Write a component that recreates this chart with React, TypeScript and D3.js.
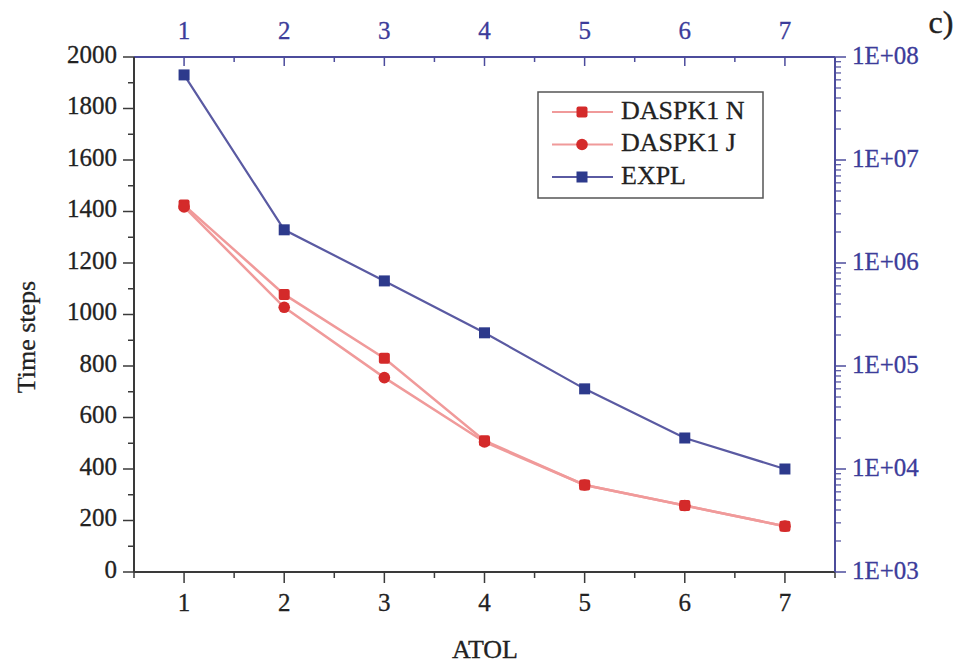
import React from "react";
import * as d3 from "d3";

const atol = [1, 2, 3, 4, 5, 6, 7];
const daspkN = [1425, 1078, 830, 510, 338, 258, 178];
const daspkJ = [1418, 1028, 755, 505, 338, 258, 178];
const expl = [6.7e7, 2.1e6, 6.7e5, 2.1e5, 6.0e4, 2.0e4, 1.0e4];
const leftTicks = [0, 200, 400, 600, 800, 1000, 1200, 1400, 1600, 1800, 2000];
const rightTicks = [1e3, 1e4, 1e5, 1e6, 1e7, 1e8];
const rightLabels = ["1E+03", "1E+04", "1E+05", "1E+06", "1E+07", "1E+08"];
const legendNames = ["DASPK1 N", "DASPK1 J", "EXPL"];

const W = 960, H = 667;
const L = 134, R = 835, T = 57, B = 572;
const FONT = "'Liberation Serif', 'Times New Roman', serif";
const AX = "#3a3a3a";
const BLUE_AX = "#4c4c9c";
const BLUE_TXT = "#3c3c9a";
const TXT = "#222";

export default function App() {
  const x = d3.scaleLinear().domain([0.5, 7.5]).range([L, R]);
  const yL = d3.scaleLinear().domain([0, 2000]).range([B, T]);
  const yR = d3.scaleLog().domain([1e3, 1e8]).range([B, T]);

  const minorX = d3.range(0.5, 7.51, 0.5);
  const minorL = d3.range(0, 2001, 100);
  const minorR: number[] = [];
  for (let e = 3; e < 8; e++) for (let k = 2; k <= 9; k++) minorR.push(k * Math.pow(10, e));

  const lineL = d3.line<number>().x((_, i) => x(atol[i])).y((d) => yL(d));
  const lineR = d3.line<number>().x((_, i) => x(atol[i])).y((d) => yR(d));

  const redLine = "#f09a9a";
  const redMark = "#d42a2a";
  const blueLine = "#5a5aa2";
  const blueMark = "#2d3a8c";
  const tickFs = 25;

  return (
    <svg width={W} height={H} style={{ position: "absolute", left: 0, top: 0, background: "#fff" }} fontFamily={FONT}>
      <rect x={0} y={0} width={W} height={H} fill="#fff" />
      {/* data lines */}
      <path d={lineL(daspkN) || ""} fill="none" stroke={redLine} strokeWidth={2.5} />
      <path d={lineL(daspkJ) || ""} fill="none" stroke={redLine} strokeWidth={2.5} />
      <path d={lineR(expl) || ""} fill="none" stroke={blueLine} strokeWidth={2.2} />
      {daspkN.map((d, i) => (
        <rect key={"n" + i} x={x(atol[i]) - 5.5} y={yL(d) - 5.5} width={11} height={11} fill={redMark} rx={2} />
      ))}
      {daspkJ.map((d, i) => (
        <circle key={"j" + i} cx={x(atol[i])} cy={yL(d)} r={5.8} fill={redMark} />
      ))}
      {expl.map((d, i) => (
        <rect key={"e" + i} x={x(atol[i]) - 5.5} y={yR(d) - 5.5} width={11} height={11} fill={blueMark} />
      ))}

      {/* bottom axis */}
      <line x1={L} x2={R} y1={B} y2={B} stroke={AX} strokeWidth={2} />
      {minorX.map((v) => {
        const major = Number.isInteger(v);
        return <line key={"bx" + v} x1={x(v)} x2={x(v)} y1={B} y2={B + (major ? 11 : 6)} stroke={AX} strokeWidth={1.5} />;
      })}
      {atol.map((v) => (
        <text key={"bl" + v} x={x(v)} y={605} fontSize={tickFs} textAnchor="middle" dominantBaseline="middle" fill={TXT} stroke={TXT} strokeWidth={0.3}>{v}</text>
      ))}
      <text x={485} y={652} fontSize={26} textAnchor="middle" dominantBaseline="middle" fill={TXT} stroke={TXT} strokeWidth={0.3}>ATOL</text>

      {/* top axis */}
      <line x1={L} x2={R} y1={T} y2={T} stroke={BLUE_AX} strokeWidth={2} />
      {minorX.map((v) => {
        const major = Number.isInteger(v);
        return <line key={"tx" + v} x1={x(v)} x2={x(v)} y1={T} y2={T + (major ? 9 : 5)} stroke={BLUE_AX} strokeWidth={1.5} />;
      })}
      {atol.map((v) => (
        <text key={"tl" + v} x={x(v)} y={33} fontSize={tickFs} textAnchor="middle" dominantBaseline="middle" fill={BLUE_TXT} stroke={BLUE_TXT} strokeWidth={0.3}>{v}</text>
      ))}

      {/* left axis */}
      <line x1={L} x2={L} y1={T} y2={B} stroke={AX} strokeWidth={2} />
      {minorL.map((v) => {
        const major = v % 200 === 0;
        return <line key={"ly" + v} x1={L - (major ? 11 : 6)} x2={L} y1={yL(v)} y2={yL(v)} stroke={AX} strokeWidth={1.5} />;
      })}
      {leftTicks.map((v) => (
        <text key={"ll" + v} x={L - 17} y={yL(v)} fontSize={tickFs} textAnchor="end" dominantBaseline="middle" fill={TXT} stroke={TXT} strokeWidth={0.3}>{v}</text>
      ))}
      <text x={0} y={0} transform={`translate(29,337) rotate(-90)`} fontSize={26} textAnchor="middle" dominantBaseline="middle" fill={TXT} stroke={TXT} strokeWidth={0.3}>Time steps</text>

      {/* right axis */}
      <line x1={R} x2={R} y1={T} y2={B} stroke={BLUE_AX} strokeWidth={2} />
      {minorR.map((v) => (
        <line key={"rm" + v} x1={R} x2={R + 6} y1={yR(v)} y2={yR(v)} stroke={BLUE_AX} strokeWidth={1.2} />
      ))}
      {rightTicks.map((v, i) => (
        <g key={"rt" + v}>
          <line x1={R} x2={R + 11} y1={yR(v)} y2={yR(v)} stroke={BLUE_AX} strokeWidth={1.5} />
          <text x={R + 17} y={yR(v) + 1} fontSize={tickFs} textAnchor="start" dominantBaseline="middle" fill={BLUE_TXT} stroke={BLUE_TXT} strokeWidth={0.3}>{rightLabels[i]}</text>
        </g>
      ))}

      <text x={941} y={26} fontSize={32} textAnchor="middle" dominantBaseline="middle" fill={TXT} stroke={TXT} strokeWidth={0.4}>c)</text>

      {/* legend */}
      <rect x={538} y={92} width={225} height={106} fill="#fff" stroke="#555" strokeWidth={1.5} />
      {legendNames.map((name, i) => {
        const ly = 112 + i * 32.5;
        const isBlue = i === 2;
        return (
          <g key={"lg" + name}>
            <line x1={552} x2={613} y1={ly} y2={ly} stroke={isBlue ? blueLine : redLine} strokeWidth={2.2} />
            {i === 0 && <rect x={576.5} y={ly - 5.5} width={11} height={11} fill={redMark} rx={2} />}
            {i === 1 && <circle cx={582} cy={ly} r={5.8} fill={redMark} />}
            {i === 2 && <rect x={576.5} y={ly - 5.5} width={11} height={11} fill={blueMark} />}
            <text x={621} y={ly + 1} fontSize={26} textAnchor="start" dominantBaseline="middle" fill={TXT} stroke={TXT} strokeWidth={0.3}>{name}</text>
          </g>
        );
      })}
    </svg>
  );
}
